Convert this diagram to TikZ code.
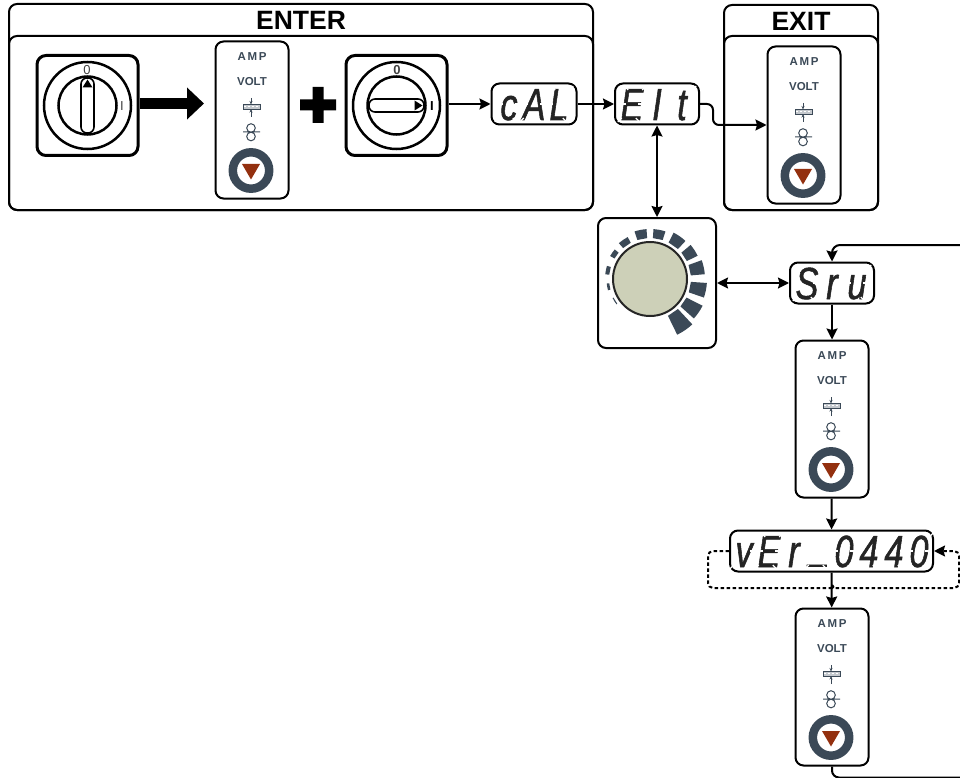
\documentclass[tikz,border=0pt]{standalone}
\usepackage{fontspec}
\setmainfont{Liberation Sans}
\newfontfamily\dispfont{Liberation Sans}[FakeStretch=.76,FakeBold=1.2]
\usetikzlibrary{arrows.meta}
\definecolor{slate}{HTML}{3B4957}
\definecolor{rust}{HTML}{93300F}
\definecolor{dialface}{HTML}{CDD0B8}
\definecolor{segment}{HTML}{242424}
\newcommand{\disptext}[1]{\smash{\raisebox{-16pt}{\dispfont\itshape\fontsize{45}{45}\selectfont #1}}}
\newcommand{\dch}[1]{\makebox[25pt]{#1}}
% white joints of one display digit, at its centre
\newcommand{\segcuts}[2]{%
  \foreach \dx/\dy/\sx/\sy in {-9/-16/2/2,9/-16/-2/2,-9/0/3/0,9/0/-3/0,-9/16/2/-2,9/16/-2/-2}
    {\draw[white,line width=1.2pt] (#1+\dx-0.2*\dy,#2+\dy) ++(-\sx,-\sy) -- ++(2*\sx,2*\sy);}}
\tikzset{
  framebox/.style={draw,line width=2pt,rounded corners=8pt},
  titletext/.style={font=\bfseries\fontsize{26.5}{26.5}\selectfont},
  knobbox/.style={draw,line width=3pt,rounded corners=9pt,minimum width=101pt,minimum height=100pt},
  panelbox/.style={draw,line width=2pt,rounded corners=8pt,minimum width=73pt,minimum height=157pt},
  dispbox/.style={draw,line width=2pt,rounded corners=8pt,minimum height=41pt,inner sep=0pt,text=segment},
  legend/.style={text=slate,font=\bfseries\fontsize{11.5}{11.5}\selectfont},
  smalltip/.style={-{Stealth[length=3.5pt,width=3pt]},slate,line width=.8pt},
  loopline/.style={dash pattern=on 3.5pt off 2.5pt,line width=2pt,rounded corners=5pt},
  pics/panelface/.style={code={
    \node[legend] (amp) at (0,-63) {\addfontfeature{LetterSpace=15}AMP};
    \node[legend] (volt) at (0,-38) {VOLT};
    % gap symbol
    \draw[smalltip] (-1,-22) -- (-1,-15.5);
    \draw[smalltip] (-1,-3) -- (-1,-11);
    \draw[slate,line width=.8pt,fill=slate!30] (-9,-15.5) rectangle (8,-11);
    \draw[white,line width=1pt,dash pattern=on 2pt off 2pt] (-8,-13.2) -- (7,-13.2);
    % wire symbol
    \draw[slate,line width=1pt] (-1,8) circle (4.3) (-1,16.5) circle (4.3) (-9,12) -- (8,12);
    % button
    \draw[slate,line width=8.5pt] (-1,50.5) circle (18.2);
    \fill[rust] (-10,44) -- (8,44) -- (-1,59.5) -- cycle;
  }},
  pics/knobface/.style={code={
    \draw[line width=2.5pt] (0,0) circle (43.5) (0,0) circle (29);
    \begin{scope}[rotate=#1]
      \draw[line width=1.6pt,fill=white,rounded corners=6pt] (-6.5,-27.5) rectangle (6.5,27.5);
      \fill (-5,-18) -- (5,-18) -- (0,-26) -- cycle;
    \end{scope}
  }}
}
\begin{document}
\begin{tikzpicture}[x=1pt,y=-1pt,>={Stealth[length=11pt,width=11pt,inset=1.5pt]},line width=2pt]
\useasboundingbox (0,0) rectangle (960,778);

% enter and exit frames
\draw[framebox] (9,4) rectangle (593,210);
\draw[framebox] (9,36) rectangle (593,210);
\node[titletext] (enter) at (301,20) {ENTER};
\draw[framebox] (724,5) rectangle (878,210);
\draw[framebox] (724,36) rectangle (878,210);
\node[titletext] (exit) at (801,21) {EXIT};

% mains switches
\node[knobbox] (knobA) at (87.5,105.5) {};
\pic at (knobA) {knobface=0};
\node[font=\fontsize{13}{13}\selectfont,text=black!75] (zeroA) at (87,70.5) {0};
\node[font=\fontsize{13}{13}\selectfont,text=black!75] (oneA) at (122,106) {I};
\node[knobbox] (knobB) at (396.5,105.5) {};
\pic at (knobB) {knobface=-90};
\node[font=\bfseries\fontsize{13}{13}\selectfont,text=black!75] (zeroB) at (397,70.5) {0};
\node[font=\bfseries\fontsize{13}{13}\selectfont] (oneB) at (432,106) {I};

% control panels
\foreach \n/\x/\y in {panelA/252/120,panelB/804/125,panelC/832/419,panelD/832/687}{
  \node[panelbox] (\n) at (\x,\y) {};
  \pic at (\n) {panelface};
}

% big arrow and plus
\coordinate (bigend) at (204,103.5);
\draw[-{Triangle[length=17pt,width=31pt]},line width=11pt] (knobA.east |- bigend) -- (bigend);
\fill (300,99.5) rectangle (336,110.5) (312.5,87) rectangle (323.5,123);

% displays
\node[dispbox,minimum width=85pt] (cal) at (534,104) {\disptext{\dch{c}\dch{A}\dch{L}}};
\foreach \c in {509,534,559} {\segcuts{\c}{104}}
\node[dispbox,minimum width=84pt] (eit) at (657,104) {\disptext{\dch{E}\dch{I}\dch{t}}};
\foreach \c in {632,657,682} {\segcuts{\c}{104}}
\node[dispbox,minimum width=84pt] (srv) at (832,283) {\disptext{\dch{S}\dch{r}\dch{u}}};
\foreach \c in {807,832,857} {\segcuts{\c}{283}}
\node[dispbox,minimum width=203pt] (ver) at (831.5,551) {\disptext{\dch{v}\dch{E}\dch{r}\dch{\raisebox{6pt}{\_}}\dch{0}\dch{4}\dch{4}\dch{0}}};
\foreach \c in {744,769,794,819,844,869,894,919} {\segcuts{\c}{551}}

% dial
\node[draw,rounded corners=8pt,minimum width=118pt,minimum height=130pt] (dial) at (657,283) {};
\begin{scope}[shift={(650,279)},y=1pt]
  \foreach \a/\b/\r in {-64/-47/62,-42/-27/59,-19/-4/57,5/20/55,26/40/53,47/63/52,72/86/50,94/108/50,118/131/47.5,140/150/46,163/174/45,186/195/43.5,207/217/42}
    \fill[slate] (\a:41) -- (\a:\r) arc[start angle=\a,end angle=\b,radius=\r] -- (\b:41) -- cycle;
\end{scope}
\draw[fill=dialface,draw=black!85] (650,279) circle (37);

% connectors
\draw[->] (knobB.east |- cal) -- (cal);
\draw[->] (cal) -- (eit);
\draw[->,rounded corners=6pt] (eit.east) -- (713,104) -- (713,125) -- (panelB.west);
\draw[<->] (eit) -- (dial);
\draw[<->] (dial) -- (srv);
\draw[->] (srv) -- (panelC);
\draw[->] (panelC) -- (ver);
\draw[->] (ver) -- (panelD);
\draw[rounded corners=7pt] (panelD.south) -- (832,777.5) -- (960,777.5);
\draw[->,rounded corners=8pt] (960,245) -- (832,245) -- (srv.north);

% repeat loop
\draw[loopline] (ver.west) -- (708,551) -- (708,588) -- (826,588) .. controls (831,588) and (830,585) .. (832,585);
\draw[loopline,->] (832,585) .. controls (834,585) and (833,588) .. (838,588) -- (959,588) -- (959,551) -- (ver.east);
\end{tikzpicture}
\end{document}
